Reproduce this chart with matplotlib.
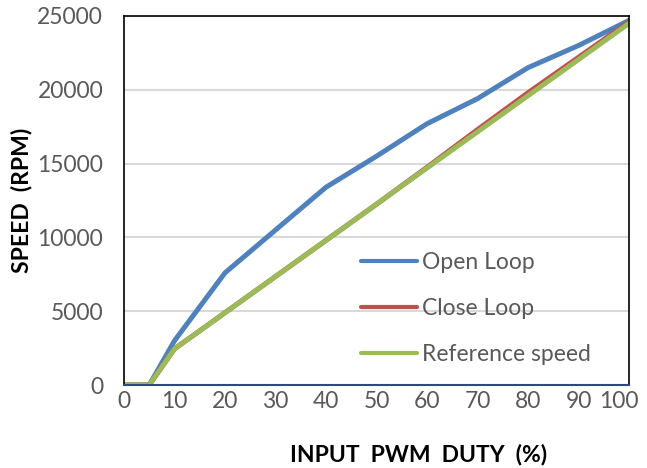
import matplotlib.pyplot as plt
from matplotlib.transforms import ScaledTranslation

duty = [0, 5, 10, 20, 30, 40, 50, 60, 70, 80, 90, 100]
open_loop = [0, 0, 3000, 7600, 10500, 13400, 15500, 17700, 19400, 21500, 23000, 24700]
close_loop = [0, 0, 2450, 4900, 7350, 9800, 12250, 14750, 17300, 19800, 22200, 24600]
reference = [0, 0, 2450, 4900, 7350, 9800, 12250, 14700, 17150, 19600, 22050, 24500]

x_ticks = list(range(0, 101, 10))
y_ticks = list(range(0, 25001, 5000))

plt.rcParams['font.family'] = ['Lato', 'DejaVu Sans']

fig = plt.figure(figsize=(6.47, 4.68), dpi=100)
ax = fig.add_axes([124 / 647, 1 - 385 / 468, 505 / 647, 369 / 468])

ax.plot(duty, open_loop, color='#4F81BD', lw=3.6, label='Open Loop', solid_capstyle='round')
ax.plot(duty, close_loop, color='#C0504D', lw=3.6, label='Close Loop', solid_capstyle='round')
ax.plot(duty, reference, color='#9BBB59', lw=3.6, label='Reference speed', solid_capstyle='round')

ax.set_xlim(0, 100)
ax.set_ylim(0, 25000)
ax.set_xticks(x_ticks)
ax.set_yticks(y_ticks)
ax.tick_params(length=0, labelsize=16.5, labelcolor='#595959')
ax.tick_params(axis='y', pad=15)
ax.tick_params(axis='x', pad=4)
ax.grid(axis='y', color='#D9D9D9', lw=1.5)
ax.set_axisbelow(True)

# last x label sits a bit inward, like the original
last = ax.get_xticklabels()[-1]
last.set_transform(last.get_transform() + ScaledTranslation(-10 / 100, 0, fig.dpi_scale_trans))

for side in ['left', 'top', 'right']:
    ax.spines[side].set_color('black')
    ax.spines[side].set_linewidth(1.2)
ax.spines['bottom'].set_color('#2E4A7A')
ax.spines['bottom'].set_linewidth(1.5)

ax.set_xlabel('INPUT  PWM  DUTY  (%)', fontsize=16.5, fontweight='bold')
ax.set_ylabel('SPEED  (RPM)', fontsize=16.5, fontweight='bold')
ax.xaxis.set_label_coords((419 - 124) / 505, (385 - 444) / 369)
ax.yaxis.set_label_coords((32 - 124) / 505, 0.5)

leg = ax.legend(loc='upper left', bbox_to_anchor=(361 / 647, 1 - 252 / 468),
                bbox_transform=fig.transFigure, frameon=False, fontsize=16.5,
                handlelength=2.45, handletextpad=0.2, labelspacing=1.1,
                borderpad=0, borderaxespad=0)
for t in leg.get_texts():
    t.set_color('#595959')
for h in leg.get_lines():
    h.set_linewidth(3)

fig.savefig('out.png', dpi=100)
